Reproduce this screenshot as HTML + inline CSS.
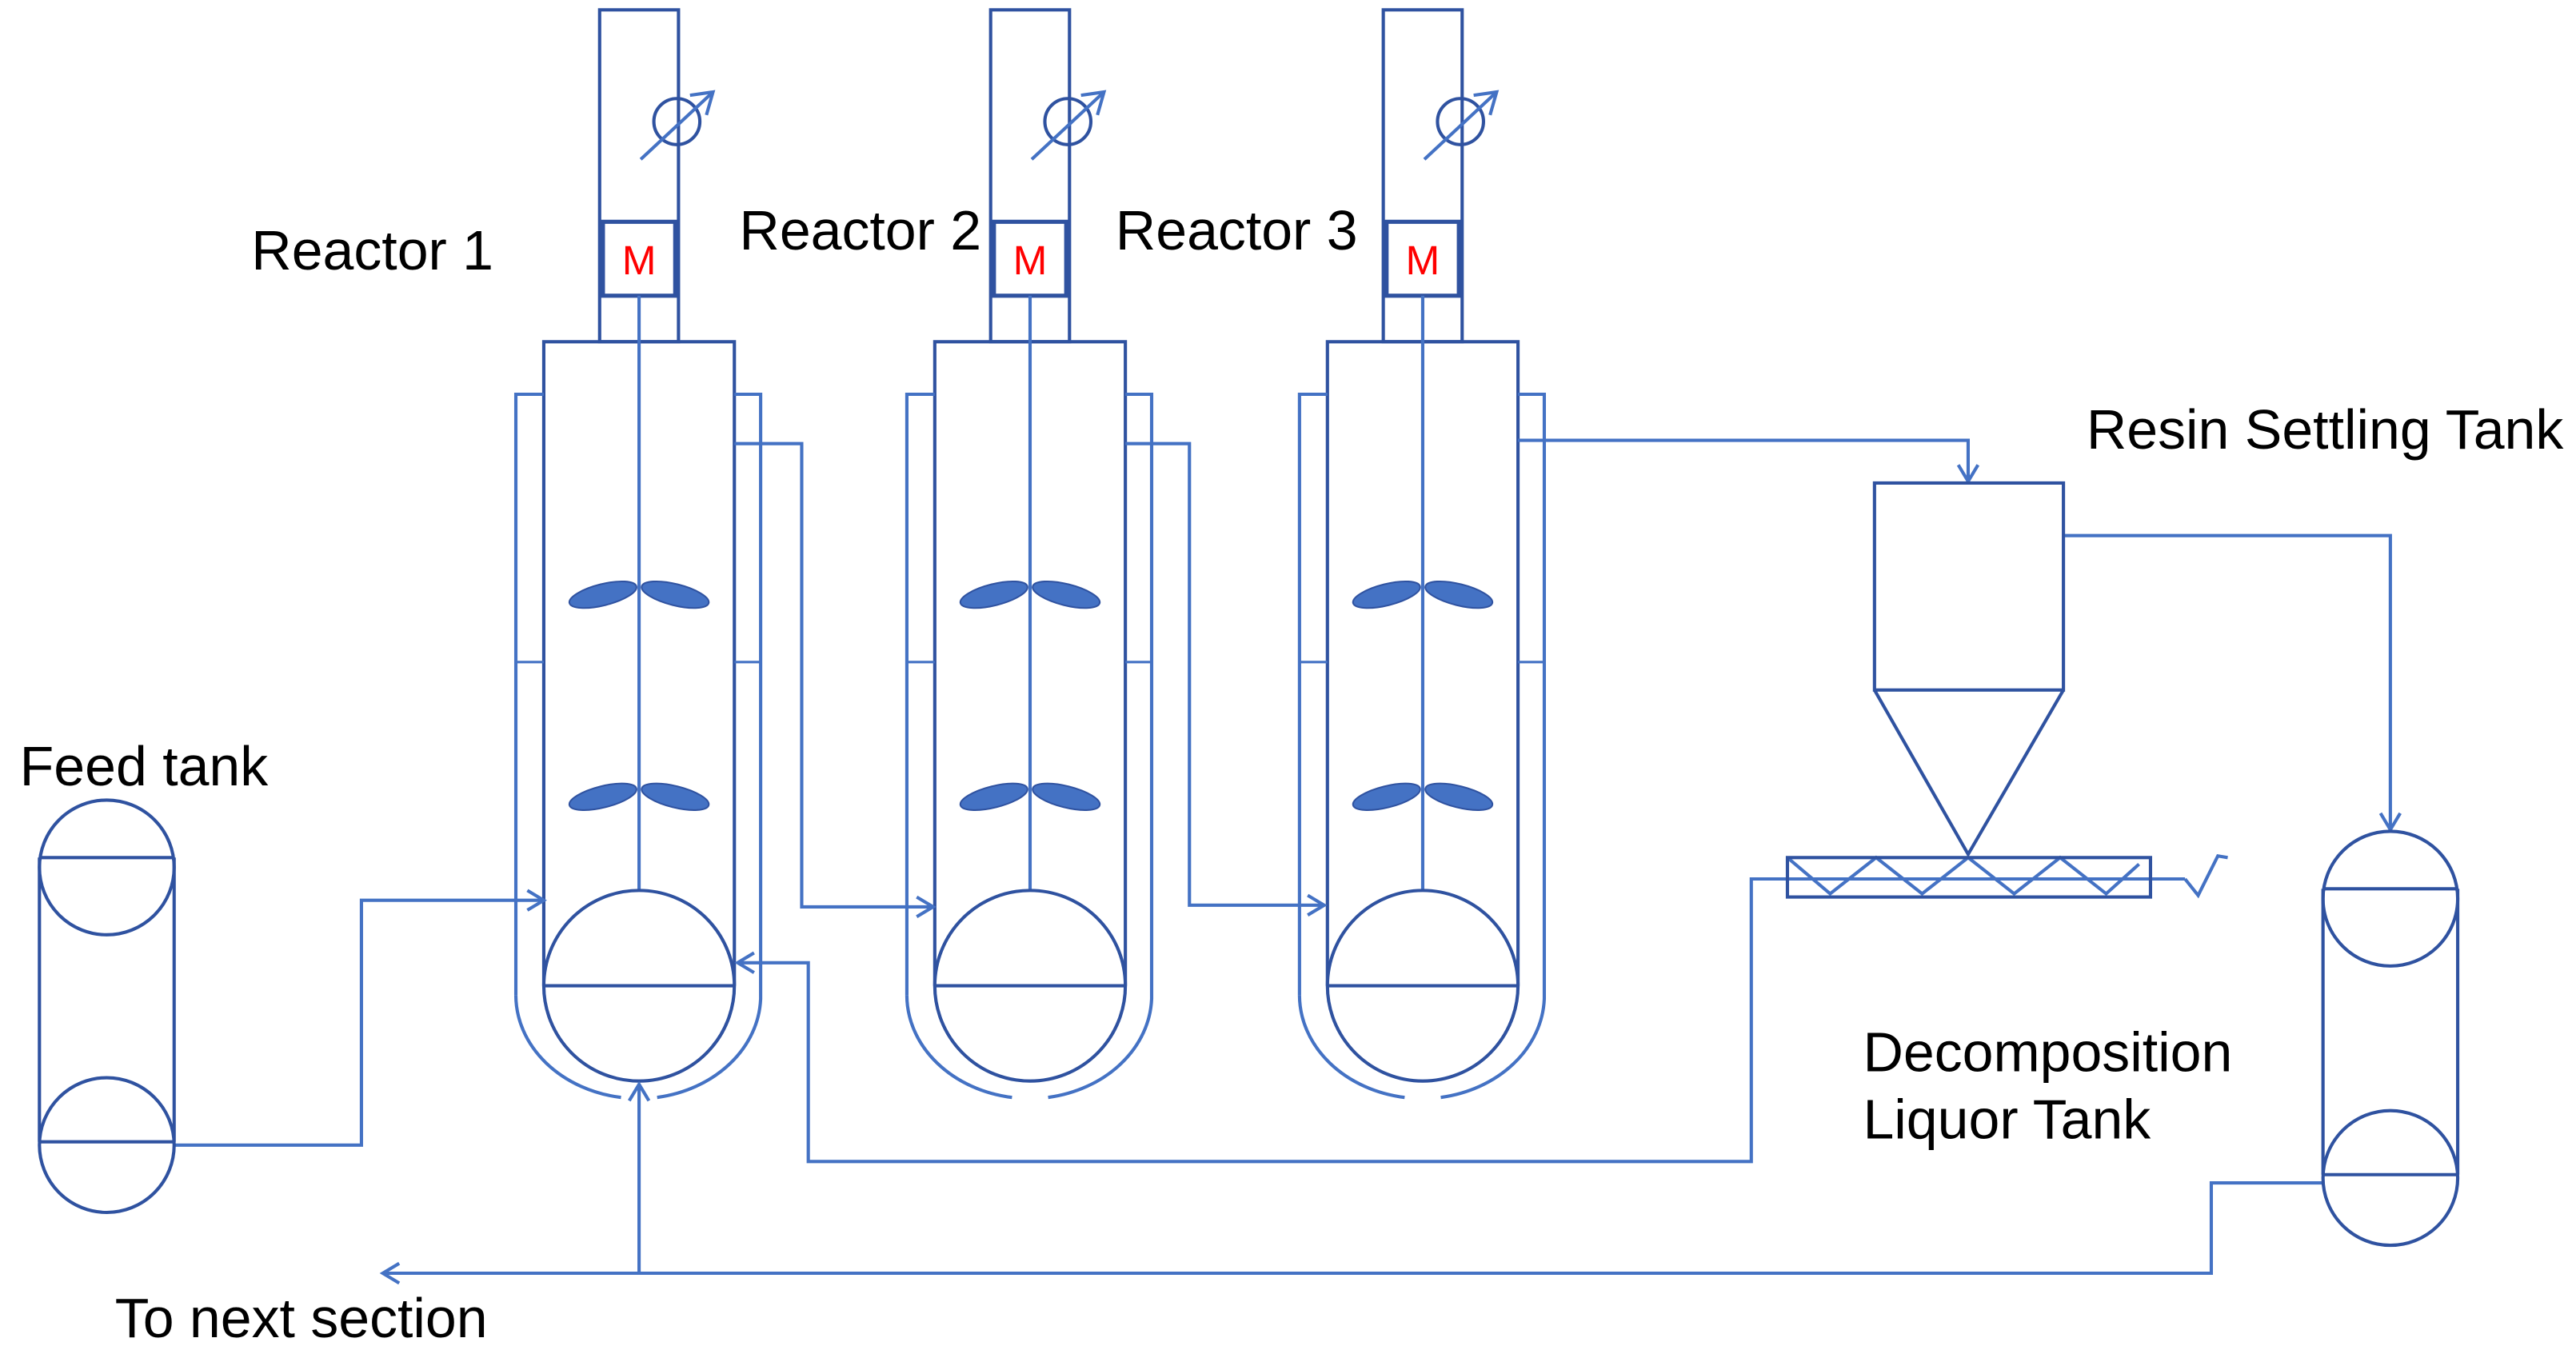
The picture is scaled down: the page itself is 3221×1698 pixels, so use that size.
<!DOCTYPE html>
<html><head><meta charset="utf-8"><style>
html,body{margin:0;padding:0;background:#fff;}
svg{display:block;}
text{font-family:"Liberation Sans",Arial,sans-serif;fill:#000;}
</style></head><body>
<svg width="3221" height="1698" viewBox="0 0 1568 826.6" preserveAspectRatio="none" xmlns="http://www.w3.org/2000/svg">
<defs>
<g id="reactor">
  <rect x="365" y="6" width="48" height="202" fill="none" stroke="#2F52A0" stroke-width="2"/>
  <circle cx="412" cy="74" r="14" fill="none" stroke="#2F52A0" stroke-width="2"/>
  <line x1="390" y1="97" x2="434" y2="56" stroke="#4472C4" stroke-width="2"/>
  <polyline points="420,58 434,56 430,70" fill="none" stroke="#4472C4" stroke-width="2"/>
  <rect x="367" y="135" width="44" height="45" fill="#fff" stroke="#2F52A0" stroke-width="2.5"/>
  <text x="389" y="167" font-size="25" text-anchor="middle" style="fill:#f00">M</text>
  <polyline points="331,600 331,208 447,208 447,600" fill="none" stroke="#2F52A0" stroke-width="2"/>
  <line x1="389" y1="180" x2="389" y2="543" stroke="#4472C4" stroke-width="2"/>
  <circle cx="389" cy="600" r="58" fill="#fff" stroke="#2F52A0" stroke-width="2"/>
  <line x1="331" y1="600" x2="447" y2="600" stroke="#2F52A0" stroke-width="2"/>
  <polyline points="331,240 314,240 314,606" fill="none" stroke="#4472C4" stroke-width="2"/>
  <polyline points="447,240 463,240 463,608" fill="none" stroke="#4472C4" stroke-width="2"/>
  <line x1="314" y1="403" x2="331" y2="403" stroke="#4472C4" stroke-width="1.5"/>
  <line x1="447" y1="403" x2="463" y2="403" stroke="#4472C4" stroke-width="1.5"/>
  <path d="M314,606 A75,63 0 0 0 378,668" fill="none" stroke="#4472C4" stroke-width="2"/>
  <path d="M400,668 A75,63 0 0 0 463,608" fill="none" stroke="#4472C4" stroke-width="2"/>
  <ellipse cx="367" cy="362" rx="21" ry="6.5" transform="rotate(-14 367 362)" fill="#4472C4" stroke="#2F52A0" stroke-width="1"/>
  <ellipse cx="411" cy="362" rx="21" ry="6.5" transform="rotate(14 411 362)" fill="#4472C4" stroke="#2F52A0" stroke-width="1"/>
  <ellipse cx="367" cy="485" rx="21" ry="6.5" transform="rotate(-14 367 485)" fill="#4472C4" stroke="#2F52A0" stroke-width="1"/>
  <ellipse cx="411" cy="485" rx="21" ry="6.5" transform="rotate(14 411 485)" fill="#4472C4" stroke="#2F52A0" stroke-width="1"/>
</g>
</defs>
<use href="#reactor"/>
<use href="#reactor" x="238"/>
<use href="#reactor" x="477"/>

<g fill="none" stroke="#4472C4" stroke-width="2">
  <polyline points="447,270 488,270 488,552 568,552"/>
  <polyline points="558,546 568,552 558,558"/>
  <polyline points="685,270 724,270 724,551 806,551"/>
  <polyline points="796,545 806,551 796,557"/>
  <polyline points="924,268 1198,268 1198,293"/>
  <polyline points="1192,283 1198,293 1204,283"/>
  <polyline points="1256,326 1455,326 1455,505"/>
  <polyline points="1449,495 1455,505 1461,495"/>
  <polyline points="106,697 220,697 220,548 331,548"/>
  <polyline points="321,542 331,548 321,554"/>
  <polyline points="1088,535 1066,535 1066,707 492,707 492,586 449,586"/>
  <polyline points="459,580 449,586 459,592"/>
  <polyline points="1414,720 1346,720 1346,775 233,775"/>
  <polyline points="243,769 233,775 243,781"/>
  <polyline points="389,775 389,660"/>
  <polyline points="383,670 389,660 395,670"/>
  <line x1="1088" y1="535" x2="1330" y2="535"/>
  <polyline points="1330,535 1338,545 1350,521 1356,522"/>
  <polyline points="1088,522 1114,544 1142,522 1170,544 1198,522 1226,544 1254,522 1282,544 1302,526"/>
</g>

<g fill="none" stroke="#2F52A0" stroke-width="2">
  <rect x="1141" y="294" width="115" height="126"/>
  <polyline points="1141,420 1198,520 1256,420"/>
  <rect x="1088" y="522" width="221" height="24"/>
</g>
<g fill="none" stroke="#2F52A0" stroke-width="2">
  <circle cx="65" cy="528" r="41"/>
  <circle cx="65" cy="697" r="41"/>
  <line x1="24" y1="522" x2="24" y2="695"/>
  <line x1="106" y1="522" x2="106" y2="695"/>
  <line x1="24" y1="522" x2="106" y2="522"/>
  <line x1="24" y1="695" x2="106" y2="695"/>
</g>
<g fill="none" stroke="#2F52A0" stroke-width="2">
  <circle cx="1455" cy="547" r="41"/>
  <circle cx="1455" cy="717" r="41"/>
  <line x1="1414" y1="541" x2="1414" y2="715"/>
  <line x1="1496" y1="541" x2="1496" y2="715"/>
  <line x1="1414" y1="541" x2="1496" y2="541"/>
  <line x1="1414" y1="715" x2="1496" y2="715"/>
</g>

<g font-size="34">
  <text x="153" y="164">Reactor 1</text>
  <text x="450" y="152">Reactor 2</text>
  <text x="679" y="152">Reactor 3</text>
  <text x="1270" y="273">Resin Settling Tank</text>
  <text x="12" y="478">Feed tank</text>
  <text x="1134" y="652">Decomposition</text>
  <text x="1134" y="693">Liquor Tank</text>
  <text x="70" y="814">To next section</text>
</g>
</svg>
</body></html>
